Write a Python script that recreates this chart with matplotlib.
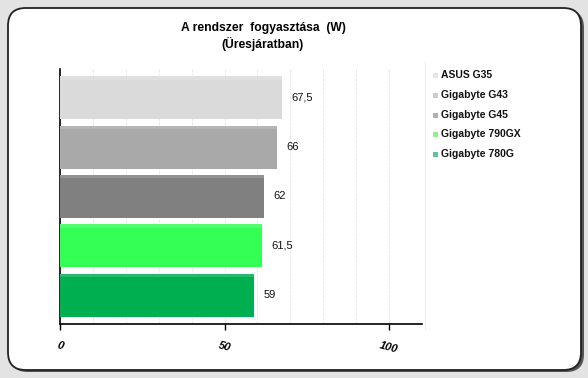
import matplotlib.pyplot as plt
import numpy as np
from matplotlib.patches import FancyBboxPatch

boards = ['ASUS G35', 'Gigabyte G43', 'Gigabyte G45', 'Gigabyte 790GX', 'Gigabyte 780G']
watts = [67.5, 66, 62, 61.5, 59]
labels = ['67,5', '66', '62', '61,5', '59']
bar_colors = ['#dadada', '#a9a9a9', '#808080', '#33ff55', '#00b050']
legend_colors = ['#e6e6e6', '#cccccc', '#b0b0b0', '#8cf08c', '#5ac896']


def main():
    W, H = 588, 378
    fig = plt.figure(figsize=(W / 100, H / 100), dpi=100)
    fig.patch.set_facecolor('#e3e3e3')
    plt.rcParams['font.family'] = ['Liberation Sans', 'DejaVu Sans']

    # white rounded panel with shadow
    shadow = FancyBboxPatch((10 / W, 6 / H), 574 / W, 362 / H,
                            boxstyle='round,pad=0,rounding_size=0.03',
                            transform=fig.transFigure, facecolor='#555555',
                            edgecolor='none', zorder=0, mutation_aspect=W / H)
    fig.patches.append(shadow)
    panel = FancyBboxPatch((8 / W, 8 / H), 573 / W, 362 / H,
                           boxstyle='round,pad=0,rounding_size=0.03',
                           transform=fig.transFigure, facecolor='white',
                           edgecolor='#222222', linewidth=1.3, zorder=1,
                           mutation_aspect=W / H)
    fig.patches.append(panel)

    ax = fig.add_axes([60 / W, 1 - 324 / H, 362 / W, 255 / H])
    ax.set_facecolor('none')
    ax.set_zorder(2)

    y = np.arange(len(boards))
    ax.barh(y, watts, height=0.87, color=bar_colors, zorder=3)
    # slightly lighter top edge of each bar
    ax.barh(y - 0.40, watts, height=0.07, color='white', alpha=0.15, zorder=4)
    for yi, v, lab in zip(y, watts, labels):
        ax.text(v + 2.8, yi, lab, va='center', ha='left', fontsize=8, color='#111111')

    ax.set_xlim(0, 110)
    ax.set_ylim(len(boards) - 0.5 + 0.08, -0.5 - 0.08)
    ax.set_xticks([0, 50, 100])
    ax.set_xticklabels(['0', '50', '100'], fontsize=8, fontweight='bold',
                       fontstyle='italic', rotation=-15, ha='center')
    ax.set_xticks(np.arange(10, 111, 10), minor=True)
    ax.grid(True, axis='x', which='both', color='#e6e6e6', linestyle='--', linewidth=0.6, zorder=0)
    ax.set_yticks([])
    ax.tick_params(axis='x', which='major', length=4, width=1, pad=8, direction='out')
    ax.tick_params(axis='x', which='minor', length=0)
    for s in ['top', 'right']:
        ax.spines[s].set_visible(False)
    ax.spines['left'].set_linewidth(1.2)
    ax.spines['bottom'].set_linewidth(1.2)

    fig.text(263 / W, 1 - 28 / H, 'A rendszer  fogyasztása  (W)', ha='center', va='center',
             fontsize=8.7, fontweight='bold')
    fig.text(263 / W, 1 - 44 / H, '(Üresjáratban)', ha='center', va='center',
             fontsize=8.7, fontweight='bold')

    # legend
    ly = [75, 95, 115, 134, 154]
    for name, c, yy in zip(boards, legend_colors, ly):
        fig.patches.append(plt.Rectangle((433 / W, 1 - (yy + 3) / H), 5 / W, 5 / H,
                                         transform=fig.transFigure, facecolor=c,
                                         edgecolor='none', zorder=3))
        fig.text(441 / W, 1 - yy / H, name, ha='left', va='center', fontsize=7.5,
                 fontweight='bold', color='#111111', zorder=3)
    fig.lines.append(plt.Line2D([425 / W, 425 / W], [1 - 330 / H, 1 - 62 / H],
                                transform=fig.transFigure, color='#eeeeee', linewidth=0.8))

    fig.savefig('out.png', dpi=100, facecolor=fig.get_facecolor())


main()
